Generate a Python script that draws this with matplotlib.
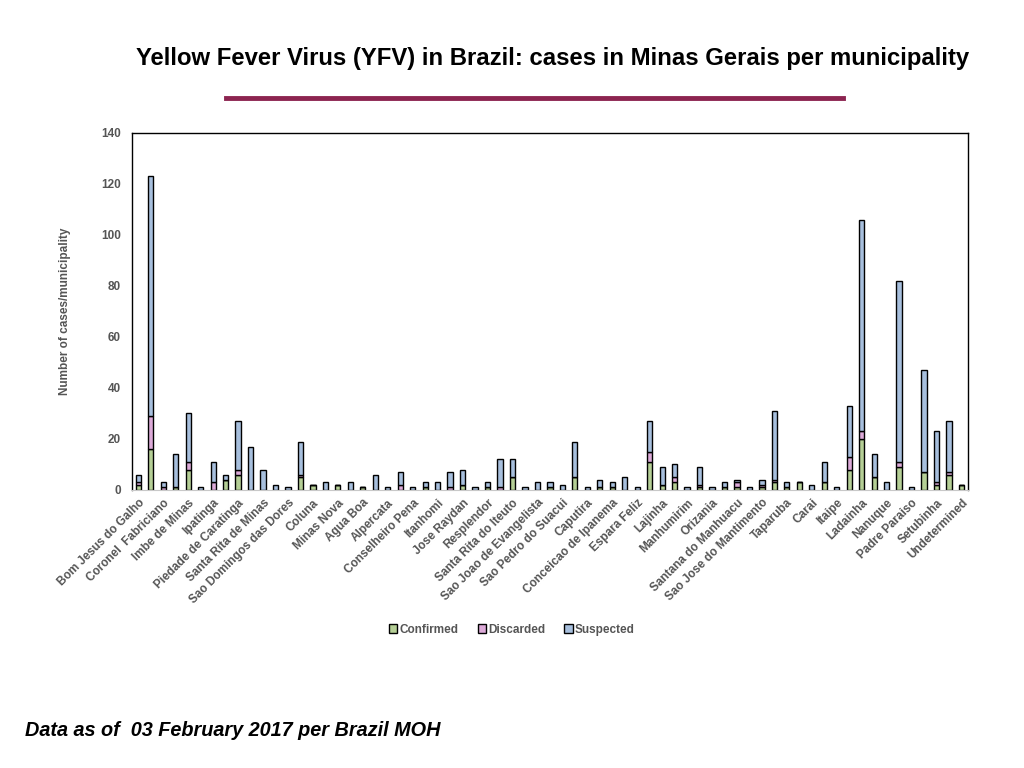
import numpy as np
import matplotlib
matplotlib.use('Agg')
import matplotlib.pyplot as plt
from matplotlib.patches import Patch
from matplotlib.transforms import ScaledTranslation

plt.rcParams['font.family'] = ['Liberation Sans', 'DejaVu Sans']

# every other municipality is labelled on the axis
labels = ['Bom Jesus do Galho', 'Coronel  Fabriciano', 'Imbe de Minas', 'Ipatinga',
          'Piedade de Caratinga', 'Santa Rita de Minas', 'Sao Domingos das Dores',
          'Coluna', 'Minas Nova', 'Agua Boa', 'Alpercata', 'Conselheiro Pena',
          'Itanhomi', 'Jose Raydan', 'Resplendor', 'Santa Rita do Iteuto',
          'Sao Joao de Evangelista', 'Sao Pedro do Suacui', 'Caputira',
          'Conceicao de Ipanema', 'Espara Feliz', 'Lajinha', 'Manhumirim',
          'Orizania', 'Santana do Manhuacu', 'Sao Jose do Mantimento', 'Taparuba',
          'Carai', 'Itaipe', 'Ladainha', 'Nanuque', 'Padre Paraiso', 'Setubinha',
          'Undetermined']

confirmed = [2, 16, 0, 1, 8, 0, 0, 4, 6, 0, 0, 0, 0, 5, 2, 0, 2, 0, 1, 0,
             0, 0, 0, 1, 0, 0, 2, 0, 1, 0, 5, 0, 0, 1, 0, 5, 0, 1, 1, 0,
             0, 11, 2, 3, 0, 1, 0, 1, 1, 0, 1, 3, 1, 3, 0, 3, 0, 8, 20, 5,
             0, 9, 0, 7, 2, 6, 2]
discarded = [1, 13, 1, 0, 3, 0, 3, 0, 2, 0, 0, 0, 0, 1, 0, 0, 0, 0, 0, 0,
             0, 2, 0, 0, 0, 1, 0, 0, 0, 1, 0, 0, 0, 0, 0, 0, 0, 0, 0, 0,
             0, 4, 0, 2, 0, 1, 0, 0, 2, 0, 1, 1, 0, 0, 0, 0, 0, 5, 3, 0,
             0, 2, 0, 0, 1, 1, 0]
suspected = [3, 94, 2, 13, 19, 1, 8, 2, 19, 17, 8, 2, 1, 13, 0, 3, 0, 3, 0, 6,
             1, 5, 1, 2, 3, 6, 6, 1, 2, 11, 7, 1, 3, 2, 2, 14, 1, 3, 2, 5,
             1, 12, 7, 5, 1, 7, 1, 2, 1, 1, 2, 27, 2, 0, 2, 8, 1, 20, 83, 9,
             3, 71, 1, 40, 20, 20, 0]

conf = np.array(confirmed)
disc = np.array(discarded)
susp = np.array(suspected)
x = np.arange(len(conf))

c_green = '#b5cf96'
c_pink = '#dcaad8'
c_blue = '#a7bfdd'

fig = plt.figure(figsize=(10.24, 7.68), dpi=100)
ax = fig.add_axes([0.129, 0.362, 0.816, 0.465])

w = 0.42
ax.bar(x, conf, w, color=c_green, edgecolor='black', linewidth=1)
ax.bar(x, disc, w, bottom=conf, color=c_pink, edgecolor='black', linewidth=1)
ax.bar(x, susp, w, bottom=conf + disc, color=c_blue, edgecolor='black', linewidth=1)

ax.set_xlim(-0.5, len(x) - 0.5)
ax.set_ylim(0, 140)
ax.set_yticks(range(0, 141, 20))
ax.set_xticks(x[::2])
ax.set_xticklabels(labels, rotation=45, ha='right', rotation_mode='anchor',
                   fontsize=8.5, fontweight='bold', color='#555555')
shift = ScaledTranslation(4 / 100, 0, fig.dpi_scale_trans)
for t in ax.get_xticklabels():
    t.set_transform(t.get_transform() + shift)
for t in ax.get_yticklabels():
    t.set_fontsize(8.5)
    t.set_fontweight('bold')
    t.set_color('#555555')
ax.tick_params(length=0, pad=8)
ax.tick_params(axis='x', pad=5)

ax.spines['bottom'].set_color('#c8c8c8')
for s in ['left', 'top', 'right']:
    ax.spines[s].set_color('black')
    ax.spines[s].set_linewidth(1)

ax.set_ylabel('Number of cases/municipality', fontsize=8.5, fontweight='bold',
              color='#555555', labelpad=22)

handles = [Patch(facecolor=c_green, edgecolor='black', label='Confirmed'),
           Patch(facecolor=c_pink, edgecolor='black', label='Discarded'),
           Patch(facecolor=c_blue, edgecolor='black', label='Suspected')]
fig.legend(handles=handles, loc='center', bbox_to_anchor=(0.5, 0.18), ncol=3,
           frameon=False, handlelength=0.7, handleheight=0.7, handletextpad=0.2,
           columnspacing=1.6, prop={'size': 8.5, 'weight': 'bold'},
           labelcolor='#555555')

fig.text(0.54, 0.924, 'Yellow Fever Virus (YFV) in Brazil: cases in Minas Gerais per municipality',
         ha='center', va='center', fontsize=17.2, fontweight='bold')
fig.add_artist(plt.Line2D([0.221, 0.823], [0.872, 0.872], color='#8c2450', linewidth=3.5))

fig.text(0.024, 0.049, 'Data as of  03 February 2017 per Brazil MOH', ha='left', va='center',
         fontsize=14.3, fontweight='bold', style='italic')

fig.savefig('out.png', dpi=100)
